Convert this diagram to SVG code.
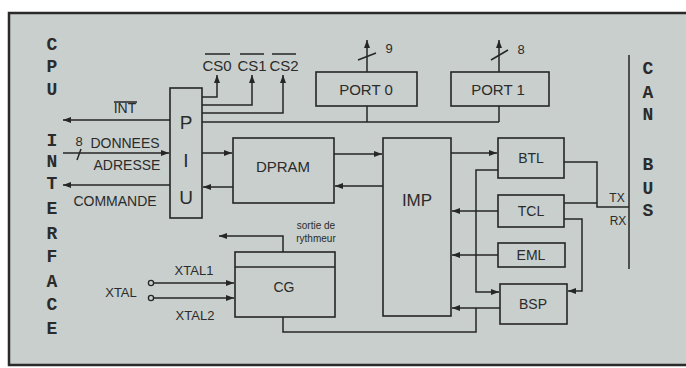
<svg xmlns="http://www.w3.org/2000/svg" width="686" height="368" viewBox="0 0 686 368">
<defs>
<marker id="ar" markerUnits="userSpaceOnUse" markerWidth="9" markerHeight="7" refX="8" refY="3" orient="auto">
<path d="M0,0 L8,3 L0,6 z" fill="#262626"/>
</marker>
<style>
.bx{fill:none;stroke:#262626;stroke-width:1.6}
.ln{fill:none;stroke:#262626;stroke-width:1.5}
.t{font-family:"Liberation Sans",Arial,sans-serif;fill:#2b2b2b;text-anchor:middle}
.m{font-family:"Liberation Mono","Courier New",monospace;fill:#2b2b2b;text-anchor:middle;font-size:18px;font-weight:bold}
.s{font-size:14px}
.x{font-size:13px}
.n{font-size:15px}
</style>
</defs>
<rect x="0" y="0" width="686" height="368" fill="#ffffff"/>
<rect x="9" y="13" width="677" height="352" fill="#c8cfcc"/>
<path d="M686,13 H9 V365 H686" fill="none" stroke="#2a2a2a" stroke-width="2.5"/>

<g id="cpu-interface">
<text class="m" x="52" y="50">C</text>
<text class="m" x="52" y="72">P</text>
<text class="m" x="52" y="95">U</text>
<text class="m" x="52" y="146">I</text>
<text class="m" x="52" y="167">N</text>
<text class="m" x="52" y="189">T</text>
<text class="m" x="52" y="214">E</text>
<text class="m" x="52" y="239">R</text>
<text class="m" x="52" y="262">F</text>
<text class="m" x="52" y="287">A</text>
<text class="m" x="52" y="310">C</text>
<text class="m" x="52" y="334">E</text>
</g>

<g id="can-bus">
<line class="ln" x1="629" y1="55" x2="629" y2="269"/>
<text class="m" x="648" y="74">C</text>
<text class="m" x="648" y="98">A</text>
<text class="m" x="648" y="120">N</text>
<text class="m" x="648" y="170">B</text>
<text class="m" x="648" y="194">U</text>
<text class="m" x="648" y="216">S</text>
</g>

<g id="piu">
<rect class="bx" x="170" y="88" width="32" height="130"/>
<text class="t" x="186" y="129" font-size="19">P</text>
<text class="t" x="186" y="167" font-size="19">I</text>
<text class="t" x="186" y="204" font-size="19">U</text>
</g>

<g id="port0">
<rect class="bx" x="316" y="72" width="101" height="34"/>
<text class="t n" x="366" y="95">PORT 0</text>
</g>

<g id="port1">
<rect class="bx" x="451" y="72" width="98" height="34"/>
<text class="t n" x="498" y="95">PORT 1</text>
</g>

<g id="dpram">
<rect class="bx" x="233" y="138" width="101" height="65"/>
<text class="t n" x="283" y="172">DPRAM</text>
</g>

<g id="imp">
<rect class="bx" x="383" y="138" width="68" height="178"/>
<text class="t" x="417" y="206" font-size="17">IMP</text>
</g>

<g id="btl">
<rect class="bx" x="498" y="138" width="66" height="40"/>
<text class="t" x="531" y="163" font-size="14">BTL</text>
</g>

<g id="tcl">
<rect class="bx" x="498" y="195" width="66" height="32"/>
<text class="t" x="531" y="216" font-size="14">TCL</text>
</g>

<g id="eml">
<rect class="bx" x="498" y="243" width="67" height="24"/>
<text class="t" x="531" y="260" font-size="14">EML</text>
</g>

<g id="bsp">
<rect class="bx" x="500" y="284" width="67" height="40"/>
<text class="t" x="533" y="309" font-size="14">BSP</text>
</g>

<g id="cg">
<rect class="bx" x="235" y="252" width="100" height="65"/>
<line class="ln" x1="235" y1="267" x2="335" y2="267"/>
<text class="t" x="284" y="292" font-size="14">CG</text>
</g>

<g id="labels">
<text class="t s" x="125" y="113">INT</text>
<line class="ln" x1="114" y1="102" x2="137" y2="102" stroke-width="1.2"/>
<text class="t s" x="125" y="148">DONNEES</text>
<text class="t s" x="127" y="170">ADRESSE</text>
<text class="t s" x="115" y="206">COMMANDE</text>
<text class="t" x="79" y="146" font-size="13">8</text>
<text class="t n" x="217" y="71">CS0</text>
<text class="t n" x="252" y="71">CS1</text>
<text class="t n" x="284" y="71">CS2</text>
<line class="ln" x1="205" y1="54" x2="230" y2="54" stroke-width="1.2"/>
<line class="ln" x1="240" y1="54" x2="264" y2="54" stroke-width="1.2"/>
<line class="ln" x1="272" y1="54" x2="296" y2="54" stroke-width="1.2"/>
<text class="t" x="389" y="53" font-size="13">9</text>
<text class="t" x="521" y="54" font-size="13">8</text>
<text class="t" x="617" y="202" font-size="12">TX</text>
<text class="t" x="618" y="225" font-size="12">RX</text>
<text class="t" x="316" y="229" font-size="10">sortie de</text>
<text class="t" x="316" y="242" font-size="10">rythmeur</text>
<text class="t x" x="194" y="275">XTAL1</text>
<text class="t x" x="195" y="320">XTAL2</text>
<text class="t x" x="121" y="297">XTAL</text>
</g>

<g id="connectors">
<line class="ln" x1="170" y1="120" x2="63" y2="120" marker-end="url(#ar)"/>
<line class="ln" x1="63" y1="153" x2="169" y2="153" marker-end="url(#ar)"/>
<line class="ln" x1="77" y1="160" x2="81" y2="149" stroke-width="1.2"/>
<line class="ln" x1="170" y1="185" x2="63" y2="185" marker-end="url(#ar)"/>
<polyline class="ln" points="202,97 217,97 217,75" marker-end="url(#ar)"/>
<polyline class="ln" points="202,105 252,105 252,75" marker-end="url(#ar)"/>
<polyline class="ln" points="202,113 283,113 283,75" marker-end="url(#ar)"/>
<line class="ln" x1="202" y1="122" x2="499" y2="122"/>
<line class="ln" x1="367" y1="106" x2="367" y2="122"/>
<line class="ln" x1="499" y1="106" x2="499" y2="122"/>
<line class="ln" x1="367" y1="72" x2="367" y2="40" marker-end="url(#ar)"/>
<line class="ln" x1="358" y1="60" x2="376" y2="53" stroke-width="1.2"/>
<line class="ln" x1="499" y1="72" x2="499" y2="40" marker-end="url(#ar)"/>
<line class="ln" x1="491" y1="60" x2="508" y2="50" stroke-width="1.2"/>
<line class="ln" x1="202" y1="153" x2="232" y2="153" marker-end="url(#ar)"/>
<line class="ln" x1="233" y1="187" x2="203" y2="187" marker-end="url(#ar)"/>
<line class="ln" x1="334" y1="154" x2="382" y2="154" marker-end="url(#ar)"/>
<line class="ln" x1="383" y1="186" x2="335" y2="186" marker-end="url(#ar)"/>
<line class="ln" x1="451" y1="153" x2="497" y2="153" marker-end="url(#ar)"/>
<line class="ln" x1="498" y1="211" x2="452" y2="211" marker-end="url(#ar)"/>
<line class="ln" x1="498" y1="255" x2="452" y2="255" marker-end="url(#ar)"/>
<polyline class="ln" points="498,170 476,170 476,292 499,292" marker-end="url(#ar)"/>
<line class="ln" x1="500" y1="308" x2="452" y2="308" marker-end="url(#ar)"/>
<polyline class="ln" points="283,317 283,332 476,332 476,308"/>
<polyline class="ln" points="564,162 597,162 597,207 629,207"/>
<line class="ln" x1="564" y1="203" x2="597" y2="203"/>
<polyline class="ln" points="564,219 582,219 582,291 568,291" marker-end="url(#ar)"/>
<polyline class="ln" points="283,252 283,236 219,236" marker-end="url(#ar)"/>
<line class="ln" x1="154" y1="283" x2="234" y2="283" marker-end="url(#ar)"/>
<line class="ln" x1="154" y1="298" x2="234" y2="298" marker-end="url(#ar)"/>
<circle cx="151" cy="283" r="2.6" fill="none" stroke="#262626" stroke-width="1.3"/>
<circle cx="151" cy="298" r="2.6" fill="none" stroke="#262626" stroke-width="1.3"/>
</g>
</svg>
